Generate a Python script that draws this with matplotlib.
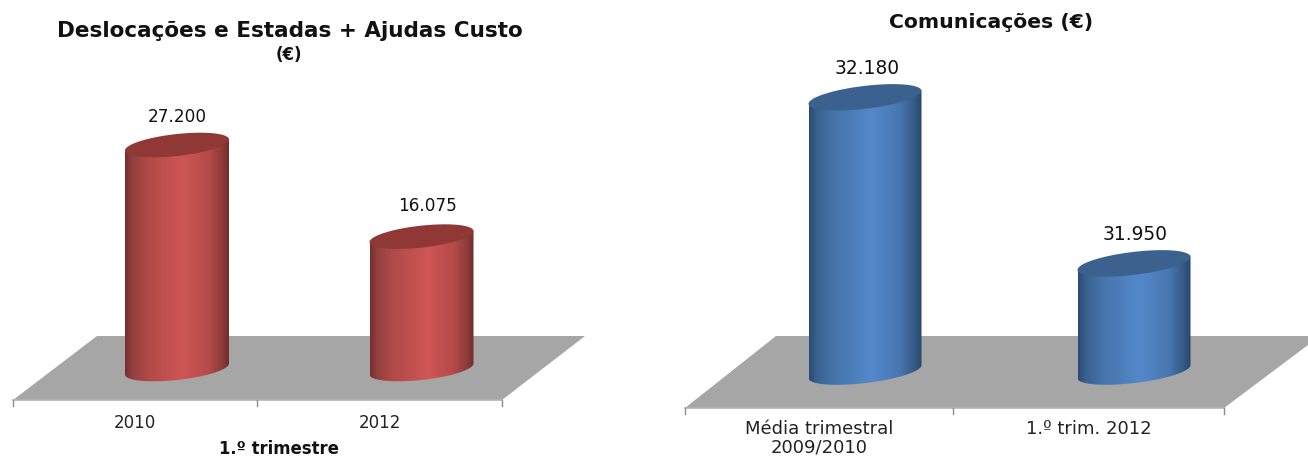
# Two cylinder charts: travel costs and communications costs
import numpy as np
import matplotlib
matplotlib.use('Agg')
import matplotlib.pyplot as plt
from matplotlib.colors import LinearSegmentedColormap
from matplotlib.patches import PathPatch, Polygon
from matplotlib.path import Path
from matplotlib.transforms import Affine2D

# Chart data
travel_labels = ['2010', '2012']
travel_values = [27200, 16075]
comms_labels = ['Média trimestral\n2009/2010', '1.º trim. 2012']
comms_values = [32180, 31950]

W, H = 1308, 457
plt.rcParams['font.family'] = ['DejaVu Sans']
fig = plt.figure(figsize=(W / 100, H / 100), dpi=100)

# pixel coordinates with the origin at the top left
px = Affine2D().scale(1, -1).translate(0, H)

# horizontal shading of the cylinders, bright band a little right of centre
stops = [0, 0.07, 0.22, 0.55, 0.8, 0.93, 1]
red_map = LinearSegmentedColormap.from_list('red_cyl', list(zip(stops, ['#74302e', '#93403e', '#b04a48', '#cf5654', '#b54b49', '#8f3c3a', '#702d2b'])))
blue_map = LinearSegmentedColormap.from_list('blue_cyl', list(zip(stops, ['#2a4a72', '#38618f', '#4675ab', '#5488ca', '#4878b2', '#355b88', '#29466c'])))


def label(x, y, text, **kw):
    fig.text(x / W, 1 - y / H, text, ha='center', va='center', color='#111111', **kw)


def draw_chart(box, values, names, base, x0, spacing, y_base, px_per_unit, half_w, half_h, skew,
               floor, ticks, cmap, top_color, value_size, name_size, name_top, value_dx, value_dy):
    # axes fills the panel, the scales put each category and value in place
    left, right = box
    ax = fig.add_axes([left / W, 0, (right - left) / W, 1])
    xlim = ((left - x0) / spacing, (right - x0) / spacing)
    ylim = (base - (H - y_base) / px_per_unit, base + y_base / px_per_unit)
    ax.axis('off')

    # grey floor and the axis line with its ticks
    ax.add_patch(Polygon(floor, closed=True, fc='#a6a6a6', ec='none', transform=px, zorder=1))
    tick_y = floor[3][1]
    ax.plot([ticks[0], ticks[-1]], [tick_y, tick_y], color='#b4b4b4', lw=1.2, transform=px, zorder=2, clip_on=False)
    for t in ticks:
        ax.plot([t, t], [tick_y, tick_y + 6], color='#8c8c8c', lw=1, transform=px, zorder=2, clip_on=False)

    dx = half_w / spacing
    sx = 1 / px_per_unit
    theta = np.linspace(0, 2 * np.pi, 121)
    for i, v in enumerate(values):
        # sheared ellipse for the cylinder ends, angle 0 is the right edge
        ex = i + dx * np.cos(theta)
        ey = (half_h * np.sin(theta) + skew * np.cos(theta)) * sx
        lower = theta[:61]
        lx = i + dx * np.cos(lower)
        ly = base + (-half_h * np.sin(lower) + skew * np.cos(lower)) * sx
        verts = [(i - dx, v - skew * sx)] + list(zip(lx[::-1], ly[::-1])) + [(i + dx, v + skew * sx)]
        body = PathPatch(Path(verts + [verts[0]]), fc='none', ec='none', transform=ax.transData)
        ax.add_patch(body)
        img = ax.imshow(np.linspace(0, 1, 256).reshape(1, -1), cmap=cmap, aspect='auto',
                        extent=[i - dx, i + dx, base - 40 * sx, v + 40 * sx], zorder=3)
        img.set_clip_path(body)
        ax.fill(ex, v + ey, color=top_color, lw=0, zorder=4)
        ax.text(i + value_dx[i] / spacing, v + value_dy[i] * sx, f'{v:,}'.replace(',', '.'), ha='center', va='center',
                fontsize=value_size, color='#111111', zorder=5)

    # imshow resets the limits, so set them last
    ax.set_xlim(xlim)
    ax.set_ylim(ylim)

    for a, b, name in zip(ticks[:-1], ticks[1:], names):
        fig.text((a + b) / 2 / W, 1 - name_top / H, name, ha='center', va='top', color='#222222',
                 fontsize=name_size, linespacing=1.05)
    return ax


# left panel
draw_chart((0, 640), travel_values, travel_labels, 0, 177, 244.5, 369, 224 / 27200, 52, 11, 5.5,
           [(97, 336), (585, 336), (502, 400), (13, 400)], [13, 257, 502],
           red_map, '#8f3836', 12.2, 12, 414, [0, 6], [28, 31])
label(290, 31, 'Deslocações e Estadas + Ajudas Custo', fontsize=15.5, fontweight='bold')
label(289, 55, '(€)', fontsize=12, fontweight='bold')
label(279, 449, '1.º trimestre', fontsize=11.9, fontweight='bold')

# right panel, value axis starts well above zero
draw_chart((640, 1308), comms_values, comms_labels, 31800, 865, 269, 371.6, 166 / 230, 56.5, 11.5, 6.5,
           [(776, 336), (1320, 336), (1224, 408), (685, 408)], [685, 953, 1224],
           blue_map, '#3b618f', 13.4, 13, 420, [2, 1], [29, 29])
label(991, 22, 'Comunicações (€)', fontsize=14.7, fontweight='bold')

fig.savefig('out.png', dpi=100)
